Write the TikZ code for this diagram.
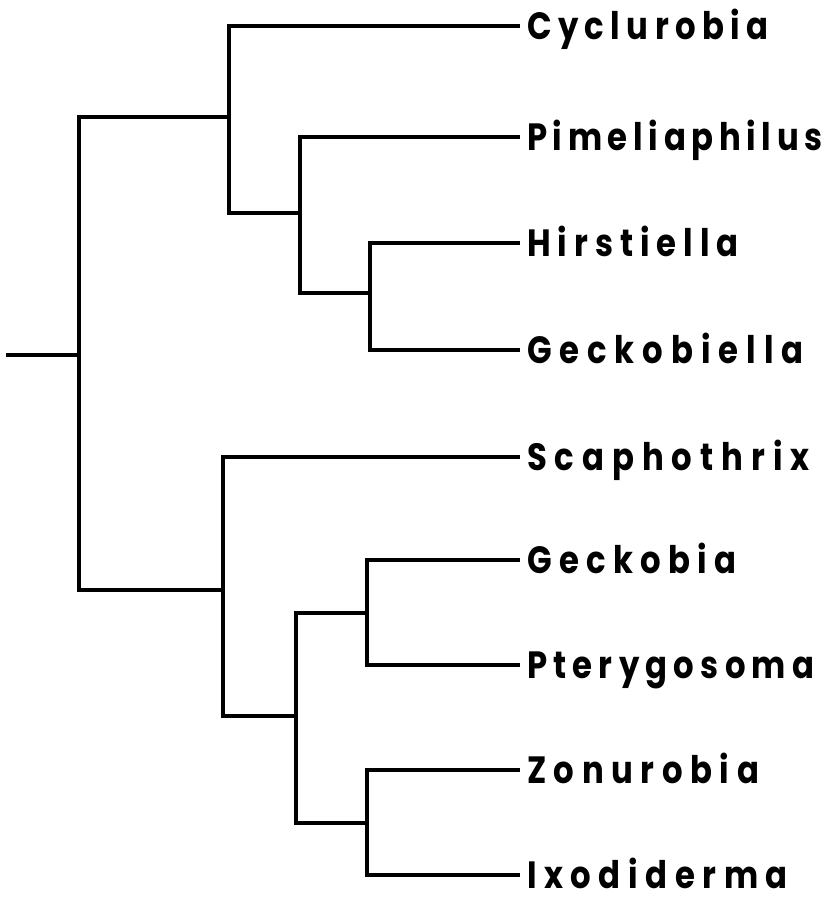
\documentclass[tikz,border=0pt]{standalone}
\usepackage{fontspec}
\newfontfamily\labfont{Poppins}[FakeStretch=0.85]
\begin{document}
\begin{tikzpicture}[x=1pt,y=-1pt,
  branch/.style={line width=3.3pt,line join=miter,line cap=rect},
  taxon/.style={anchor=west,inner xsep=0pt,inner ysep=0pt,outer sep=0pt,
    text height=26pt,text depth=0pt,
    font=\labfont\bfseries\fontsize{38}{38}\selectfont\addfontfeature{LetterSpace=#1}},
  taxon/.default=17]
\useasboundingbox (0,0) rectangle (830,900);
% leaf labels
\node[taxon=17] (cyc) at (527,26) {Cyclurobia};
\node[taxon=15] (pim) at (527,137) {Pimeliaphilus};
\node[taxon=18.5] (hir) at (527,243) {Hirstiella};
\node[taxon=21] (gkl) at (527,350) {Geckobiella};
\node[taxon=21] (sca) at (527,457) {Scaphothrix};
\node[taxon=19.5] (gkb) at (527,560) {Geckobia};
\node[taxon=16.5] (pte) at (527,665) {Pterygosoma};
\node[taxon=20] (zon) at (527,770) {Zonurobia};
\node[taxon=20] (ixo) at (527,875) {Ixodiderma};
% line ends before labels
\foreach \n in {cyc,pim,hir,gkl,sca,gkb,pte,zon,ixo}
  \coordinate (\n-end) at ([xshift=-9pt]\n.west);
% internal nodes
\coordinate (root) at (8,355);
\coordinate (n0) at (79,355);
\coordinate (nA) at (229,117);
\coordinate (nB) at (300,213);
\coordinate (nC) at (370,293);
\coordinate (nD) at (223,590);
\coordinate (nE) at (296,716);
\coordinate (nF) at (367,613);
\coordinate (nG) at (367,823);
% branches
\draw[branch] (root) -- (n0);
\draw[branch] (n0) |- (nA);
\draw[branch] (n0) |- (nD);
\draw[branch] (nA) |- (cyc-end);
\draw[branch] (nA) |- (nB);
\draw[branch] (nB) |- (pim-end);
\draw[branch] (nB) |- (nC);
\draw[branch] (nC) |- (hir-end);
\draw[branch] (nC) |- (gkl-end);
\draw[branch] (nD) |- (sca-end);
\draw[branch] (nD) |- (nE);
\draw[branch] (nE) |- (nF);
\draw[branch] (nE) |- (nG);
\draw[branch] (nF) |- (gkb-end);
\draw[branch] (nF) |- (pte-end);
\draw[branch] (nG) |- (zon-end);
\draw[branch] (nG) |- (ixo-end);
\end{tikzpicture}
\end{document}
